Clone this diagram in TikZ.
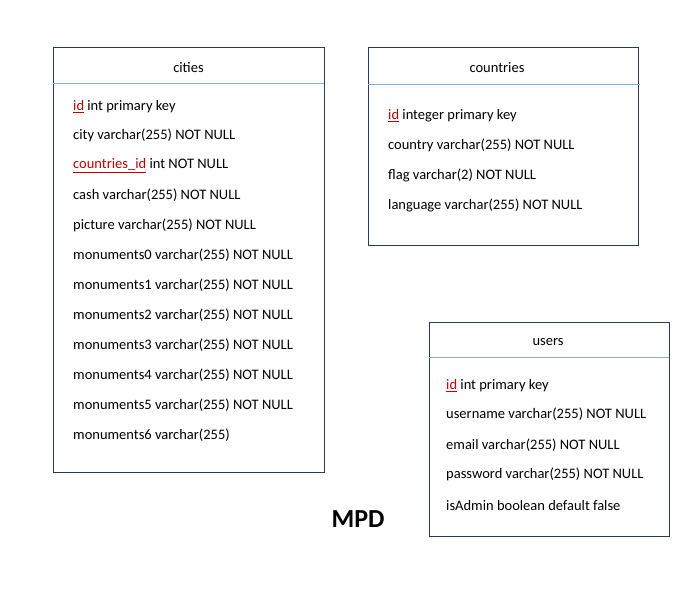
\documentclass[tikz,border=0pt]{standalone}
\usepackage{fontspec}
\setmainfont{Carlito}
\usepackage{xcolor}
\definecolor{boxline}{HTML}{2E3B55}
\definecolor{headline}{HTML}{8EAADB}
\definecolor{keyred}{HTML}{C00000}
\newcommand{\pk}[1]{\textcolor{keyred}{\underline{#1}}}

\begin{document}
\begin{tikzpicture}[x=1pt,y=-1pt,
    tablebox/.style={draw=boxline, line width=0.9pt, anchor=north west, inner sep=0pt},
    sep/.style={headline, line width=0.9pt},
    title/.style={font=\fontsize{14.5}{16}\selectfont, inner sep=0pt, yshift=-1pt},
    field/.style={font=\fontsize{14.5}{16}\selectfont, anchor=west, inner sep=0pt, yshift=-1.5pt}]
    \useasboundingbox (0,0) rectangle (692,590);

        % cities
        \node[tablebox, minimum width=271pt, minimum height=425pt] (cities) at (53,47) {};
        \draw[sep] (53,83) -- (324,83);
        \node[title] (citiesT) at (188.5,67) {cities};
        \node[field] (c1) at (73,105) {\pk{id} int primary key};
        \node[field] (c2) at (73,134) {city varchar(255) NOT NULL};
        \node[field] (c3) at (73,164) {\pk{countries\_id} int NOT NULL};
        \node[field] (c4) at (73,194) {cash varchar(255) NOT NULL};
        \node[field] (c5) at (73,224) {picture varchar(255) NOT NULL};
        \node[field] (c6) at (73,254) {monuments0 varchar(255) NOT NULL};
        \node[field] (c7) at (73,284) {monuments1 varchar(255) NOT NULL};
        \node[field] (c8) at (73,314) {monuments2 varchar(255) NOT NULL};
        \node[field] (c9) at (73,344) {monuments3 varchar(255) NOT NULL};
        \node[field] (c10) at (73,374) {monuments4 varchar(255) NOT NULL};
        \node[field] (c11) at (73,404) {monuments5 varchar(255) NOT NULL};
        \node[field] (c12) at (73,434) {monuments6 varchar(255)};

        % countries
        \node[tablebox, minimum width=270pt, minimum height=198pt] (countries) at (368,47) {};
        \draw[sep] (368,84) -- (640,84);
        \node[title] (countriesT) at (497,67) {countries};
        \node[field] (p1) at (388,114) {\pk{id} integer primary key};
        \node[field] (p2) at (388,144) {country varchar(255) NOT NULL};
        \node[field] (p3) at (388,174) {flag varchar(2) NOT NULL};
        \node[field] (p4) at (388,204) {language varchar(255) NOT NULL};

        % users
        \node[tablebox, minimum width=240pt, minimum height=214pt] (users) at (429,322) {};
        \draw[sep] (429,357) -- (669,357);
        \node[title] (usersT) at (548,341) {users};
        \node[field] (u1) at (446,384) {\pk{id} int primary key};
        \node[field] (u2) at (446,413) {username varchar(255) NOT NULL};
        \node[field] (u3) at (446,444) {email varchar(255) NOT NULL};
        \node[field] (u4) at (446,473) {password varchar(255) NOT NULL};
        \node[field] (u5) at (446,504) {isAdmin boolean default false};

        \node[font=\fontsize{26}{30}\bfseries] (mpd) at (358,519) {MPD};
    \end{tikzpicture}
\end{document}
